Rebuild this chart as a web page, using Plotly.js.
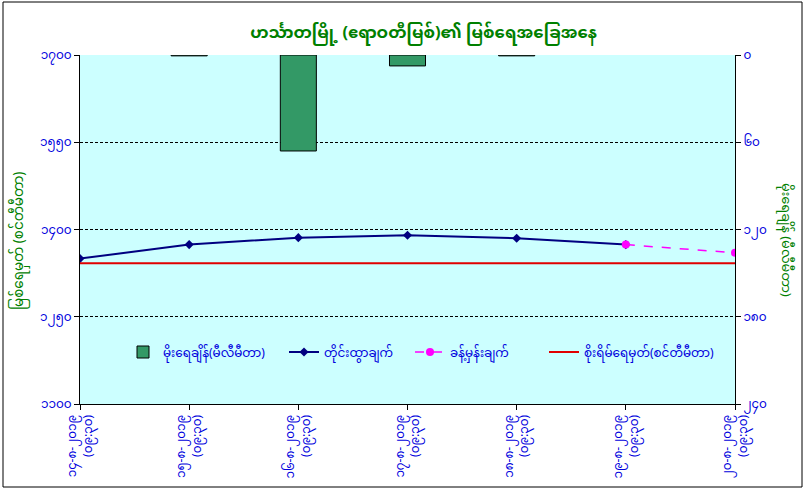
<!DOCTYPE html>
<html>
<head>
<meta charset="utf-8">
<script src="https://cdn.plot.ly/plotly-3.0.1.min.js"></script>
<style>html,body{margin:0;padding:0;background:#fff;}#chart{width:810px;height:494px;}</style>
</head>
<body>
<div id="chart"></div>
<script>
// ---- data ----
var dates = ['၁၄-၈-၂၀၁၉','၁၅-၈-၂၀၁၉','၁၆-၈-၂၀၁၉','၁၇-၈-၂၀၁၉','၁၈-၈-၂၀၁၉','၁၉-၈-၂၀၁၉','၂၀-၈-၂၀၁၉'];
var times = ['(၀၉:၃၀)','(၀၉:၃၀)','(၀၉:၃၀)','(၀၉:၃၀)','(၀၉:၃၀)','(၀၉:၃၀)','(၀၉:၃၀)'];
var rainfall = [null, 0.6, 66, 7.5, 0.6, null, null];          // mm (right axis)
var observed = [1350, 1374, 1386, 1390, 1385, 1374, null];     // cm
var forecast = [null, null, null, null, null, 1374, 1360];     // cm
var dangerLevel = [1342, 1342, 1342, 1342, 1342, 1342, 1342];  // cm
var leftTickVals = [1100, 1250, 1400, 1550, 1700];
var leftTickText = ['၁၁၀၀','၁၂၅၀','၁၄၀၀','၁၅၅၀','၁၇၀၀'];
var rightTickVals = [0, 60, 120, 180, 240];
var rightTickText = ['၀','၆၀','၁၂၀','၁၈၀','၂၄၀'];
var titleText = 'ဟင်္သာတမြို့ (ဧရာဝတီမြစ်)၏ မြစ်ရေအခြေအနေ';
var leftTitle = 'မြစ်ရေမှတ် (စင်တီမီတာ)';
var rightTitle = 'မိုးရေချိန် (မီလီမီတာ)';
var names = ['မိုးရေချိန်(မီလီမီတာ)','တိုင်းထွာချက်','ခန့်မှန်းချက်','စိုးရိမ်ရေမှတ်(စင်တီမီတာ)'];

var categories = dates.map(function(d, i){ return d + '<br>' + times[i]; });

var FONT = '"Noto Sans Myanmar", "Myanmar Text", Padauk, "Noto Sans", "DejaVu Sans", sans-serif';
var BLUE = '#0000DD';
var GREEN = '#008000';

// plot area in pixels: x 80..735, y 55..404
function px(x){ return (x - 80) / 655; }
function py(y){ return (404 - y) / 349; }

var traces = [
  {type:'bar', x:categories, y:rainfall, yaxis:'y2', name:names[0], width:0.33, legend:'legend',
   marker:{color:'#339966', line:{color:'#000', width:1}}},
  {type:'scatter', mode:'lines+markers', x:categories, y:observed, name:names[1], legend:'legend2',
   line:{color:'#000080', width:2}, marker:{symbol:'diamond', size:7, color:'#000080'}},
  {type:'scatter', mode:'lines+markers', x:categories, y:forecast, name:names[2], legend:'legend3',
   line:{color:'#FF00FF', width:1.5, dash:'dash'}, marker:{symbol:'circle', size:8, color:'#FF00FF'}},
  {type:'scatter', mode:'lines', x:categories, y:dangerLevel, name:names[3], legend:'legend4',
   line:{color:'#E00000', width:2}}
];

function leg(xpx){
  return {orientation:'h', x:px(xpx), xanchor:'left', y:py(352), yanchor:'middle',
          bgcolor:'rgba(0,0,0,0)', font:{family:FONT, size:12, color:BLUE}, itemwidth:30};
}

var layout = {
  width:810, height:494,
  margin:{l:80, r:75, t:55, b:90, pad:0},
  paper_bgcolor:'#fff', plot_bgcolor:'#CCFFFF',
  font:{family:FONT, color:BLUE, size:12},
  title:{text:'<b>'+titleText+'</b>', font:{family:FONT, size:16.5, color:GREEN}, x:0.523, xanchor:'center', y:0.935, yanchor:'middle'},
  showlegend:true,
  legend:leg(123), legend2:leg(284), legend3:leg(410), legend4:leg(544),
  bargap:0,
  xaxis:{type:'category', range:[0, 6], showgrid:false, zeroline:false,
         showline:true, linecolor:'#000', linewidth:1, mirror:false,
         ticks:'outside', ticklen:5, tickcolor:'#000', tickangle:-90,
         tickfont:{family:FONT, size:12, color:BLUE}, fixedrange:true},
  yaxis:{range:[1100, 1700], tickvals:leftTickVals, ticktext:leftTickText,
         showgrid:true, gridcolor:'#000', gridwidth:1, griddash:'3px,2px',
         zeroline:false, showline:true, linecolor:'#000', linewidth:1,
         ticks:'outside', ticklen:5, tickcolor:'#000',
         tickfont:{family:FONT, size:12, color:BLUE}},
  yaxis2:{overlaying:'y', side:'right', range:[240, 0], tickvals:rightTickVals, ticktext:rightTickText,
          showgrid:false, zeroline:false, showline:true, linecolor:'#000', linewidth:1,
          ticks:'outside', ticklen:5, tickcolor:'#000',
          tickfont:{family:FONT, size:12, color:BLUE}},
  annotations:[
    {text:leftTitle, textangle:-90, xref:'paper', yref:'paper', x:px(20), y:py(241),
     xanchor:'center', yanchor:'middle', showarrow:false, font:{family:FONT, size:13.5, color:GREEN}},
    {text:rightTitle, textangle:90, xref:'paper', yref:'paper', x:px(785), y:py(240),
     xanchor:'center', yanchor:'middle', showarrow:false, font:{family:FONT, size:13, color:GREEN}}
  ],
  shapes:[
    {type:'rect', xref:'paper', yref:'paper', x0:px(3), x1:px(802), y0:py(487), y1:py(2),
     line:{color:'#000', width:1}, fillcolor:'rgba(0,0,0,0)', layer:'below'}
  ]
};

Plotly.newPlot('chart', traces, layout, {displayModeBar:false, staticPlot:true});
</script>
</body>
</html>
